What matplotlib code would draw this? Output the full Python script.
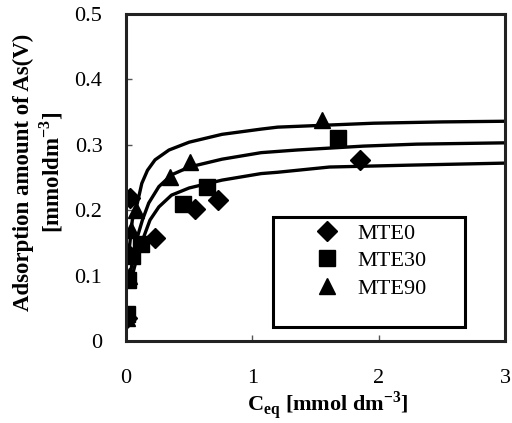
import matplotlib
matplotlib.use("Agg")
import matplotlib.pyplot as plt
from matplotlib.patches import Rectangle

# --- data ---
mte0_x = [0.01, 0.01, 0.03, 0.23, 0.55, 0.73, 1.85]
mte0_y = [0.035, 0.135, 0.218, 0.158, 0.202, 0.215, 0.276]
mte30_x = [0.01, 0.015, 0.05, 0.12, 0.45, 0.64, 1.68]
mte30_y = [0.042, 0.093, 0.13, 0.148, 0.210, 0.236, 0.310]
mte90_x = [0.01, 0.02, 0.04, 0.08, 0.35, 0.51, 1.55]
mte90_y = [0.035, 0.10, 0.17, 0.20, 0.250, 0.274, 0.338]

# fitted curves
fit90_x = [0.02, 0.05, 0.09, 0.125, 0.17, 0.23, 0.34, 0.50, 0.76, 1.07, 1.2, 1.96, 2.5, 3.0]
fit90_y = [0.13, 0.185, 0.211, 0.241, 0.261, 0.277, 0.292, 0.304, 0.316, 0.324, 0.327, 0.333, 0.335, 0.336]
fit30_x = [0.03, 0.06, 0.09, 0.13, 0.18, 0.26, 0.36, 0.50, 0.76, 1.07, 1.35, 1.88, 2.3, 3.0]
fit30_y = [0.10, 0.13, 0.159, 0.185, 0.211, 0.236, 0.254, 0.266, 0.278, 0.288, 0.292, 0.298, 0.301, 0.303]
fit0_x = [0.05, 0.09, 0.14, 0.19, 0.26, 0.36, 0.50, 0.76, 1.07, 1.2, 1.61, 2.27, 3.0]
fit0_y = [0.10, 0.13, 0.159, 0.185, 0.205, 0.223, 0.234, 0.246, 0.256, 0.258, 0.266, 0.269, 0.272]

labels = ["MTE0", "MTE30", "MTE90"]
x_ticks = [0, 1, 2, 3]
y_ticks = [0, 0.1, 0.2, 0.3, 0.4, 0.5]

plt.rcParams['font.family'] = ['Liberation Serif', 'DejaVu Serif']
plt.rcParams['mathtext.fontset'] = 'custom'
plt.rcParams['mathtext.rm'] = 'Liberation Serif'
plt.rcParams['mathtext.bf'] = 'Liberation Serif:bold'

W, H = 512, 423
AX_L, AX_R, AX_T, AX_B = 126, 505, 14, 341
fig = plt.figure(figsize=(W/100, H/100), dpi=100)
ax = fig.add_axes([AX_L/W, 1-AX_B/H, (AX_R-AX_L)/W, (AX_B-AX_T)/H])

lw = 2.4
ax.plot(fit90_x, fit90_y, color='black', lw=lw, solid_capstyle='round')
ax.plot(fit30_x, fit30_y, color='black', lw=lw, solid_capstyle='round')
ax.plot(fit0_x, fit0_y, color='black', lw=lw, solid_capstyle='round')

ax.plot(mte0_x, mte0_y, 'D', color='black', ms=10.5, ls='none', label=labels[0])
ax.plot(mte30_x, mte30_y, 's', color='black', ms=11, ls='none', label=labels[1])
ax.plot(mte90_x, mte90_y, '^', color='black', ms=12, ls='none', label=labels[2])

ax.set_xlim(0, 3)
ax.set_ylim(0, 0.5)
ax.set_xticks(x_ticks)
ax.set_yticks(y_ticks)
ax.set_xticklabels([str(t) for t in x_ticks])
ax.set_yticklabels(["0"] + ["%.1f" % t for t in y_ticks[1:]])
ax.tick_params(axis='both', direction='in', length=4, width=1, colors='#555555',
               labelcolor='black', labelsize=16)
ax.tick_params(axis='x', pad=20)
ax.tick_params(axis='y', pad=17)
for s in ax.spines.values():
    s.set_linewidth(2.2)
    s.set_color('#222222')

fig.text(328/W, 1-406/H, r"C$_{\mathbf{eq}}$ [mmol dm$^{\mathbf{-3}}$]", fontsize=16,
         fontweight='bold', ha='center', va='center')
fig.text(39/W, 1-172/H, "Adsorption amount of As(V)\n" + r"[mmoldm$^{\mathbf{-3}}$]",
         fontsize=16.5, fontweight='bold', rotation=90, ha='center', va='center',
         multialignment='center', linespacing=1.15)

# legend frame (large box as in the reference) and entries
ax.add_patch(Rectangle(((273-AX_L)/(AX_R-AX_L), (AX_B-327)/(AX_B-AX_T)),
                       (465-273)/(AX_R-AX_L), (327-217)/(AX_B-AX_T),
                       transform=ax.transAxes, fill=True, facecolor='white',
                       edgecolor='black', lw=2.2, zorder=4))
leg = ax.legend(loc='upper left', bbox_to_anchor=((314-AX_L)/(AX_R-AX_L), (AX_B-223)/(AX_B-AX_T)),
                frameon=False, fontsize=16, handlelength=1.2,
                handletextpad=0.75, borderpad=0.0, labelspacing=0.32,
                borderaxespad=0)
leg.set_zorder(5)

fig.savefig("out.png", dpi=100)
